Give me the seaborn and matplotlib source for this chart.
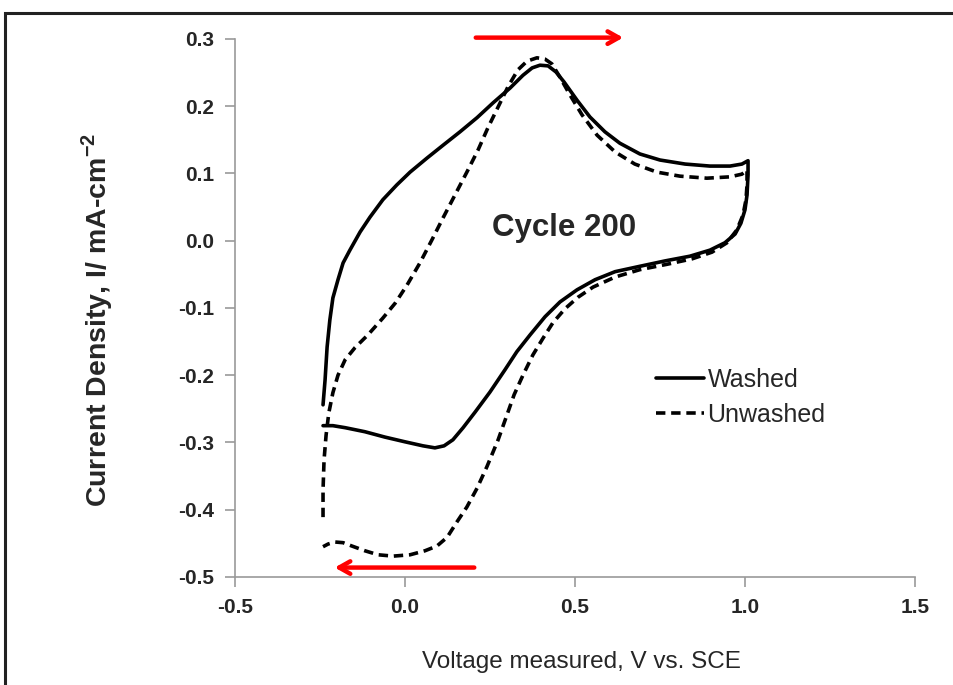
import numpy as np
import pandas as pd
import matplotlib
matplotlib.use("Agg")
import matplotlib.pyplot as plt
from matplotlib.patches import Rectangle
import seaborn as sns

# Cyclic voltammogram, cycle 200: forward scan (-0.24 V -> 1.0 V) then reverse scan
washed_v = [-0.241, -0.235, -0.229, -0.221, -0.212, -0.197, -0.182, -0.162, -0.132, -0.103,
            -0.065, -0.024, 0.015, 0.065, 0.112, 0.162, 0.212, 0.259, 0.309, 0.347,
            0.374, 0.397, 0.421, 0.444, 0.468, 0.506, 0.544, 0.588, 0.632, 0.691,
            0.750, 0.824, 0.897, 0.956, 0.991, 1.009,
            1.009, 1.006, 1.000, 0.988, 0.971, 0.941, 0.897, 0.838, 0.765, 0.691,
            0.618, 0.559, 0.506, 0.456, 0.412, 0.368, 0.329, 0.294, 0.250, 0.206,
            0.171, 0.141, 0.115, 0.088, 0.053, 0.000, -0.059, -0.118, -0.176, -0.212,
            -0.241]
washed_i = [-0.244, -0.207, -0.158, -0.118, -0.085, -0.058, -0.033, -0.014, 0.013, 0.035,
            0.061, 0.083, 0.102, 0.123, 0.142, 0.162, 0.183, 0.205, 0.227, 0.246,
            0.257, 0.261, 0.260, 0.251, 0.236, 0.209, 0.184, 0.162, 0.145, 0.129,
            0.120, 0.114, 0.111, 0.111, 0.114, 0.119,
            0.098, 0.068, 0.046, 0.026, 0.010, -0.003, -0.014, -0.023, -0.030, -0.038,
            -0.046, -0.058, -0.073, -0.091, -0.113, -0.140, -0.165, -0.192, -0.225, -0.255,
            -0.278, -0.296, -0.305, -0.308, -0.305, -0.299, -0.292, -0.284, -0.278, -0.275,
            -0.275]

unwashed_v = [-0.241, -0.241, -0.238, -0.232, -0.224, -0.212, -0.197, -0.176, -0.147, -0.109,
              -0.065, -0.029, 0.006, 0.044, 0.079, 0.112, 0.147, 0.182, 0.215, 0.244,
              0.274, 0.303, 0.332, 0.359, 0.388, 0.412, 0.432, 0.456, 0.485, 0.521,
              0.565, 0.618, 0.676, 0.741, 0.809, 0.888, 0.956, 0.991, 1.006,
              1.006, 1.003, 0.994, 0.976, 0.947, 0.903, 0.844, 0.771, 0.691, 0.618,
              0.553, 0.509, 0.471, 0.435, 0.406, 0.376, 0.347, 0.321, 0.300, 0.274,
              0.241, 0.212, 0.182, 0.153, 0.124, 0.094, 0.059, 0.015, -0.035, -0.079,
              -0.118, -0.156, -0.182, -0.206, -0.226, -0.241]
unwashed_i = [-0.411, -0.371, -0.326, -0.289, -0.256, -0.226, -0.200, -0.177, -0.159, -0.140,
              -0.115, -0.093, -0.066, -0.033, 0.001, 0.034, 0.068, 0.102, 0.135, 0.168,
              0.199, 0.229, 0.254, 0.267, 0.272, 0.270, 0.263, 0.243, 0.217, 0.187,
              0.157, 0.132, 0.114, 0.102, 0.096, 0.093, 0.095, 0.099, 0.105,
              0.083, 0.061, 0.038, 0.016, -0.003, -0.017, -0.027, -0.035, -0.043, -0.054,
              -0.069, -0.084, -0.101, -0.122, -0.145, -0.170, -0.200, -0.229, -0.259, -0.296,
              -0.336, -0.368, -0.396, -0.418, -0.441, -0.454, -0.461, -0.467, -0.469, -0.467,
              -0.461, -0.454, -0.449, -0.448, -0.451, -0.455]

x_ticks = [-0.5, 0.0, 0.5, 1.0, 1.5]
y_ticks = [-0.5, -0.4, -0.3, -0.2, -0.1, 0.0, 0.1, 0.2, 0.3]

sns.set_style("white")
plt.rcParams["font.family"] = ["Liberation Sans", "DejaVu Sans"]
plt.rcParams["mathtext.fontset"] = "custom"

df = pd.concat([
    pd.DataFrame({"v": washed_v, "i": washed_i, "sample": "Washed"}),
    pd.DataFrame({"v": unwashed_v, "i": unwashed_i, "sample": "Unwashed"}),
], ignore_index=True)

fig = plt.figure(figsize=(9.54, 6.85), dpi=100)
ax = fig.add_axes([0.2463, 0.1577, 0.9591 - 0.2463, 0.9431 - 0.1577])

for name, style in [("Washed", "-"), ("Unwashed", (0, (2.6, 1.6)))]:
    sub = df[df["sample"] == name]
    sns.lineplot(data=sub, x="v", y="i", sort=False, estimator=None,
                 color="black", linewidth=2.6, linestyle=style,
                 solid_joinstyle="round", ax=ax, label=name)

ax.set_xlim(-0.5, 1.5)
ax.set_ylim(-0.5, 0.3)
ax.set_xticks(x_ticks)
ax.set_yticks(y_ticks)
ax.set_xticklabels([f"{t:.1f}" for t in x_ticks], fontsize=15, fontweight="bold")
ax.set_yticklabels([f"{t:.1f}" for t in y_ticks], fontsize=15, fontweight="bold")

for side in ["top", "right"]:
    ax.spines[side].set_visible(False)
for side in ["left", "bottom"]:
    ax.spines[side].set_color("#9a9a9a")
    ax.spines[side].set_linewidth(1.2)
ax.tick_params(axis="both", direction="out", length=7, width=1.2, color="#9a9a9a",
               pad=8, left=True, bottom=True)

ax.set_xlabel("Voltage measured, V vs. SCE", fontsize=17.5)
ax.xaxis.set_label_coords((581 - 235) / 680, -(651 - 577) / 538)
ax.set_ylabel(r"Current Density, I/ mA-cm$^{\mathregular{-2}}$", fontsize=20.5,
              fontweight="bold")
ax.yaxis.set_label_coords(-(235 - 115) / 680, (577 - 320) / 538)

ax.text(0.468, 0.019, "Cycle 200", fontsize=22.5, fontweight="bold",
        ha="center", va="center")

leg = ax.legend(loc="upper left", bbox_to_anchor=(0.604, 0.407), frameon=False,
                fontsize=18, handlelength=1.95, handletextpad=0.12, labelspacing=0.42,
                borderaxespad=0)

# scan direction arrows
ax.annotate("", xy=(0.65, 0.302), xytext=(0.20, 0.302),
            arrowprops=dict(arrowstyle="->,head_length=0.8,head_width=0.45",
                            color="red", lw=3.2), annotation_clip=False)
ax.annotate("", xy=(-0.215, -0.486), xytext=(0.212, -0.486),
            arrowprops=dict(arrowstyle="->,head_length=0.8,head_width=0.45",
                            color="red", lw=3.2), annotation_clip=False)

# outer frame around the figure
fig.patches.append(Rectangle((5 / 954, -0.2), 1.2, 0.2 + 1 - 13 / 685,
                             transform=fig.transFigure, fill=False,
                             edgecolor="#222222", linewidth=2.2))

fig.savefig("out.png", dpi=100)
